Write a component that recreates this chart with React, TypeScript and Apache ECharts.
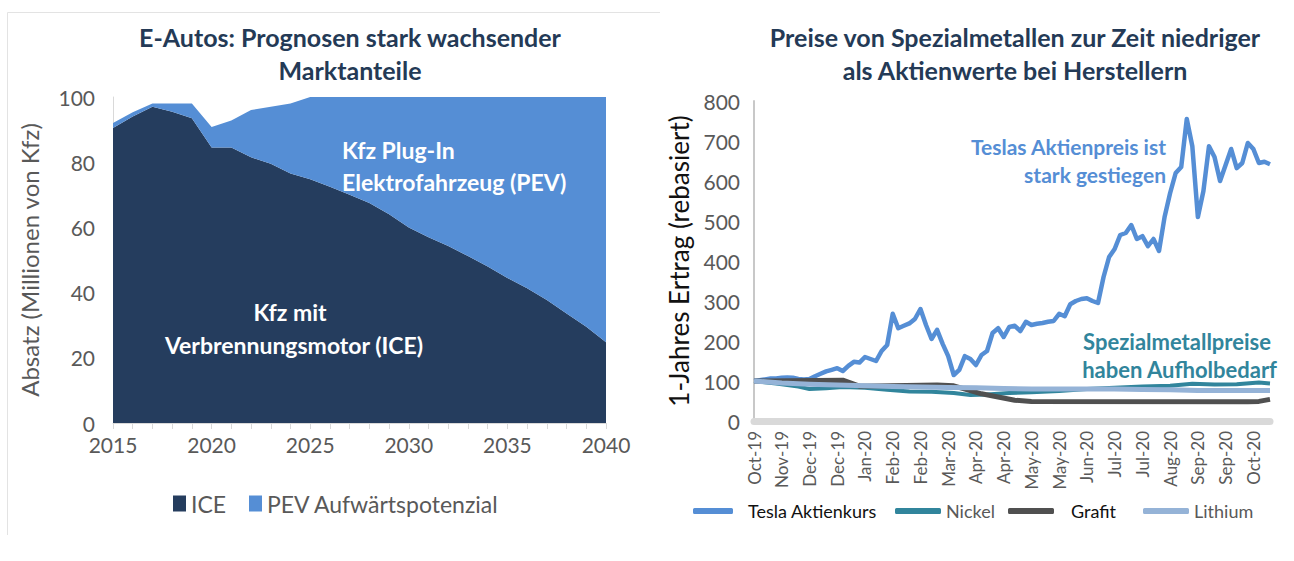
import React, { useEffect, useRef } from "react";
import * as echarts from "echarts";

// ---------- Left chart data ----------
const years = ["2015","2016","2017","2018","2019","2020","2021","2022","2023","2024","2025","2026","2027","2028","2029","2030","2031","2032","2033","2034","2035","2036","2037","2038","2039","2040"];
const iceValues = [90.5, 94, 97, 95.5, 93.5, 84.5, 84.5, 81.5, 79.5, 76.5, 74.8, 72.5, 70, 67.5, 64, 60, 57, 54.3, 51.2, 48, 44.5, 41.3, 37.7, 33.6, 29.5, 24.8];
const pevValues = [1.5, 1.3, 1, 2.5, 4.5, 6.3, 8.3, 14.5, 17.5, 21.5, 25.2, 27.5, 30, 32.5, 36, 40, 43, 45.7, 48.8, 52, 55.5, 58.7, 62.3, 66.4, 70.5, 75.2];

// ---------- Right chart data ----------
const tickLabels = ["Oct-19","Nov-19","Dec-19","Dec-19","Jan-20","Feb-20","Feb-20","Mar-20","Apr-20","Apr-20","May-20","May-20","Jun-20","Jul-20","Jul-20","Aug-20","Sep-20","Sep-20","Oct-20"];
const pointsPerTick = 5;
const pointCount = 94;
const teslaValues = [
  100, 102, 104, 106, 106, 108, 109, 108, 105, 104,
  105, 112, 118, 124, 128, 132, 125, 138, 148, 146,
  160, 155, 150, 175, 190, 268, 232, 238, 244, 255,
  280, 240, 205, 228, 193, 162, 115, 128, 162, 155,
  140, 165, 175, 220, 232, 210, 235, 238, 225, 248,
  240, 243, 245, 248, 250, 268, 262, 292, 300, 305,
  307, 300, 295, 360, 410, 430, 465, 470, 490, 455,
  462, 437, 455, 425, 510, 570, 620, 635, 755, 687,
  510, 575, 687, 660, 600, 640, 680, 632, 645, 695,
  680, 645, 648, 642
];
const nickelPoints = [[0,100],[4,94],[8,86],[10,80],[13,82],[16,85],[20,83],[24,78],[28,74],[32,73],[36,70],[39,65],[42,66],[46,70],[50,72],[55,75],[60,80],[65,83],[70,86],[75,88],[79,93],[83,91],[87,92],[91,96],[93,94]];
const grafitPoints = [[0,100],[16,102],[19,87],[33,90],[36,88],[41,68],[44,60],[47,52],[50,49],[89,48],[91,49],[93,54]];
const lithiumPoints = [[0,100],[5,95],[10,92],[15,90],[20,88],[25,86],[30,85],[35,84],[40,83],[45,81],[50,80],[55,80],[60,80],[65,80],[70,79],[75,78],[80,76],[85,76],[93,76]];

const FONT = "Lato, 'Open Sans', sans-serif";
const GREY = "#595959";
const NAVY = "#243a56";
const C_ICE = "#253d5e";
const C_PEV = "#558ed5";
const C_TESLA = "#558ed5";
const C_NICKEL = "#31859c";
const C_GRAFIT = "#505050";
const C_LITHIUM = "#95b3d7";

export default function App() {
  const ref = useRef<HTMLDivElement>(null);
  useEffect(() => {
    if (!ref.current) return;
    const chart = echarts.init(ref.current, undefined, { renderer: "svg" });
    const cats = Array.from({ length: pointCount }, (_, i) =>
      i % pointsPerTick === 0 ? tickLabels[i / pointsPerTick] : ""
    );
    const lineSeries = (name: string, data: any, color: string, width: number) => ({
      type: "line", name, data, xAxisIndex: 1, yAxisIndex: 1,
      symbol: "none", showSymbol: false,
      lineStyle: { color, width, join: "round" }, itemStyle: { color },
    });
    const legendText = (color: string, pad: number) => ({
      color, fontFamily: FONT, fontSize: 18, padding: [0, 0, 0, pad],
    });
    chart.setOption({
      animation: false,
      backgroundColor: "#ffffff",
      textStyle: { fontFamily: FONT },
      grid: [
        { left: 113, top: 97, width: 493, height: 326 },
        { left: 754, top: 101, width: 516, height: 320 },
      ],
      xAxis: [
        {
          gridIndex: 0, type: "category", data: years, boundaryGap: false,
          axisLine: { lineStyle: { color: "#d9d9d9", width: 1 } },
          axisTick: { interval: 0, length: 6, lineStyle: { color: "#d9d9d9" } },
          axisLabel: { interval: 4, color: GREY, fontSize: 21, margin: 11, fontFamily: FONT },
        },
        {
          gridIndex: 1, type: "category", data: cats, boundaryGap: false,
          axisLine: { lineStyle: { color: "#d9d9d9", width: 7 } },
          axisTick: { show: false },
          axisLabel: {
            interval: (i: number) => i % pointsPerTick === 0,
            rotate: 90, color: GREY, fontSize: 17, margin: 10, fontFamily: FONT,
          },
        },
      ],
      yAxis: [
        {
          gridIndex: 0, type: "value", min: 0, max: 100, interval: 20,
          axisLine: { show: true, lineStyle: { color: "#d9d9d9" } },
          axisTick: { show: false }, splitLine: { show: false },
          axisLabel: { color: GREY, fontSize: 21, margin: 18, fontFamily: FONT },
          name: "Absatz (Millionen von Kfz)", nameLocation: "middle", nameGap: 72,
          nameTextStyle: { color: GREY, fontSize: 24, fontFamily: FONT },
        },
        {
          gridIndex: 1, type: "value", min: 0, max: 800, interval: 100,
          axisLine: { show: true, lineStyle: { color: "#c8c8c8", width: 2 } },
          axisTick: { show: false }, splitLine: { show: false },
          axisLabel: { color: GREY, fontSize: 21, margin: 14, fontFamily: FONT },
          name: "1-Jahres Ertrag (rebasiert)", nameLocation: "middle", nameGap: 62,
          nameTextStyle: { color: "#111111", fontSize: 26, fontFamily: FONT },
        },
      ],
      legend: [
        { data: [{ name: "ICE", icon: "rect" }], left: 168, top: 487, itemWidth: 13, itemHeight: 16, textStyle: { color: GREY, fontFamily: FONT, fontSize: 23 } },
        { data: [{ name: "PEV Aufwärtspotenzial", icon: "rect" }], left: 244, top: 487, itemWidth: 13, itemHeight: 16, textStyle: { color: GREY, fontFamily: FONT, fontSize: 23 } },
        { data: [{ name: "Tesla Aktienkurs", icon: "roundRect" }], left: 688, top: 497, itemWidth: 40, itemHeight: 6, textStyle: legendText("#111111", 10) },
        { data: [{ name: "Nickel", icon: "roundRect" }], left: 890, top: 497, itemWidth: 46, itemHeight: 6, textStyle: legendText(GREY, 0) },
        { data: [{ name: "Grafit", icon: "roundRect" }], left: 1003, top: 497, itemWidth: 46, itemHeight: 6, textStyle: legendText("#111111", 12) },
        { data: [{ name: "Lithium", icon: "roundRect" }], left: 1138, top: 497, itemWidth: 46, itemHeight: 6, textStyle: legendText(GREY, 0) },
      ],
      series: [
        {
          type: "line", name: "ICE", data: iceValues, stack: "total", xAxisIndex: 0, yAxisIndex: 0,
          symbol: "none", lineStyle: { width: 0 }, areaStyle: { color: C_ICE, opacity: 1 }, itemStyle: { color: C_ICE },
        },
        {
          type: "line", name: "PEV Aufwärtspotenzial", data: pevValues, stack: "total", xAxisIndex: 0, yAxisIndex: 0,
          symbol: "none", lineStyle: { width: 0 }, areaStyle: { color: C_PEV, opacity: 1 }, itemStyle: { color: C_PEV },
        },
        lineSeries("Tesla Aktienkurs", teslaValues, C_TESLA, 4.5),
        lineSeries("Nickel", nickelPoints, C_NICKEL, 4),
        lineSeries("Grafit", grafitPoints, C_GRAFIT, 5),
        lineSeries("Lithium", lithiumPoints, C_LITHIUM, 5),
      ],
      graphic: [
        { type: "line", shape: { x1: 7.5, y1: 12.5, x2: 660, y2: 12.5 }, style: { stroke: "#e3e3e3", lineWidth: 1 } },
        { type: "line", shape: { x1: 7.5, y1: 12.5, x2: 7.5, y2: 535 }, style: { stroke: "#e3e3e3", lineWidth: 1 } },
        { type: "text", x: 350, y: 37, style: { text: "E-Autos: Prognosen stark wachsender", fill: NAVY, font: `bold 25px ${FONT}`, textAlign: "center", textVerticalAlign: "middle" } },
        { type: "text", x: 350, y: 70, style: { text: "Marktanteile", fill: NAVY, font: `bold 25px ${FONT}`, textAlign: "center", textVerticalAlign: "middle" } },
        { type: "text", x: 1015, y: 37, style: { text: "Preise von Spezialmetallen zur Zeit niedriger", fill: NAVY, font: `bold 25px ${FONT}`, textAlign: "center", textVerticalAlign: "middle" } },
        { type: "text", x: 1015, y: 70, style: { text: "als Aktienwerte bei Herstellern", fill: NAVY, font: `bold 25px ${FONT}`, textAlign: "center", textVerticalAlign: "middle" } },
        { type: "text", x: 342, y: 150, z: 10, style: { text: "Kfz Plug-In", fill: "#ffffff", font: `bold 23px ${FONT}`, textAlign: "left", textVerticalAlign: "middle" } },
        { type: "text", x: 342, y: 182, z: 10, style: { text: "Elektrofahrzeug (PEV)", fill: "#ffffff", font: `bold 23px ${FONT}`, textAlign: "left", textVerticalAlign: "middle" } },
        { type: "text", x: 290, y: 312, z: 10, style: { text: "Kfz mit", fill: "#ffffff", font: `bold 23px ${FONT}`, textAlign: "center", textVerticalAlign: "middle" } },
        { type: "text", x: 294, y: 345, z: 10, style: { text: "Verbrennungsmotor (ICE)", fill: "#ffffff", font: `bold 23px ${FONT}`, textAlign: "center", textVerticalAlign: "middle" } },
        { type: "text", x: 1166, y: 146, z: 10, style: { text: "Teslas Aktienpreis ist", fill: C_TESLA, font: `bold 21px ${FONT}`, textAlign: "right", textVerticalAlign: "middle" } },
        { type: "text", x: 1166, y: 174, z: 10, style: { text: "stark gestiegen", fill: C_TESLA, font: `bold 21px ${FONT}`, textAlign: "right", textVerticalAlign: "middle" } },
        { type: "text", x: 1271, y: 341, z: 10, style: { text: "Spezialmetallpreise", fill: C_NICKEL, font: `bold 22px ${FONT}`, textAlign: "right", textVerticalAlign: "middle" } },
        { type: "text", x: 1277, y: 369, z: 10, style: { text: "haben Aufholbedarf", fill: C_NICKEL, font: `bold 22px ${FONT}`, textAlign: "right", textVerticalAlign: "middle" } },
      ],
    });
    return () => chart.dispose();
  }, []);
  return <div ref={ref} style={{ position: "fixed", left: 0, top: 0, width: 1294, height: 561 }} />;
}
